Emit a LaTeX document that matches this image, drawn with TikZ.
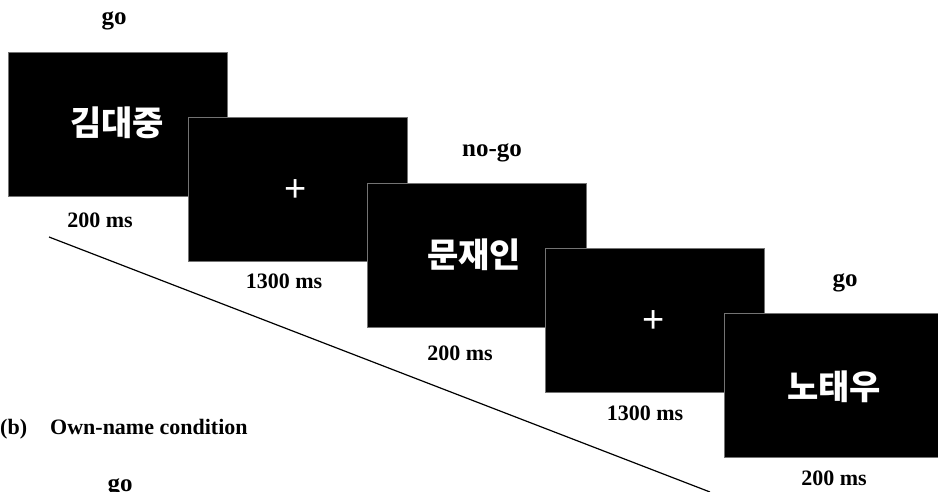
\documentclass[tikz,border=0pt]{standalone}
\usepackage{fontspec}
\setmainfont{Liberation Serif}
\newfontfamily\kr{Noto Sans CJK KR}
\newfontfamily\plusfont{Liberation Sans}
\begin{document}
\begin{tikzpicture}[x=1pt,y=-1pt,
  screen/.style={fill=black, draw=black!55, line width=0.5pt, minimum width=219pt, minimum height=144pt, inner sep=0pt, anchor=north west},
  cond/.style={font={\fontsize{25}{28}\selectfont\bfseries}, anchor=base, inner sep=0pt},
  dur/.style={font={\fontsize{22}{26}\selectfont\bfseries}, anchor=base, inner sep=0pt},
  pname/.style={text=white, font={\kr\fontsize{34}{38}\selectfont\bfseries}, inner sep=0pt},
  fix/.style={text=white, font={\plusfont\fontsize{38}{40}\selectfont}, inner sep=0pt},
  timeline/.style={line width=1.2pt}]
\useasboundingbox (0,0) rectangle (938,492);
\clip (0,0) rectangle (938,492);
% screens
\node[screen] (b1) at (8,52) {};
\node[screen] (b2) at (188,117) {};
\node[screen] (b3) at (367,183) {};
\node[screen] (b4) at (545,248) {};
\node[screen] (b5) at (724,313) {};
% stimuli
\node[pname] (n1) at (117,123) {김대중};
\node[fix] (f1) at (296,191) {+};
\node[pname] (n2) at (474,255) {문재인};
\node[fix] (f2) at (654,322) {+};
\node[pname] (n3) at (834,387) {노태우};
% condition labels
\node[cond] (c1) at (114,25) {go};
\node[cond] (c2) at (492,157) {no-go};
\node[cond] (c3) at (845,287) {go};
\node[cond] (c4) at (120,491) {go};
% durations
\node[dur] (d1) at (100,228) {200 ms};
\node[dur] (d2) at (284,288) {1300 ms};
\node[dur] (d3) at (460,360) {200 ms};
\node[dur] (d4) at (645,420) {1300 ms};
\node[dur] (d5) at (834,485) {200 ms};
% panel label
\node[dur, anchor=base west] (pb) at (0,434) {(b)};
\node[dur, anchor=base west] (pt) at (50,434) {Own-name condition};
% time axis
\coordinate (t0) at (49,237);
\coordinate (t1) at (710,492);
\draw[timeline] (t0) -- (t1);
\end{tikzpicture}
\end{document}
